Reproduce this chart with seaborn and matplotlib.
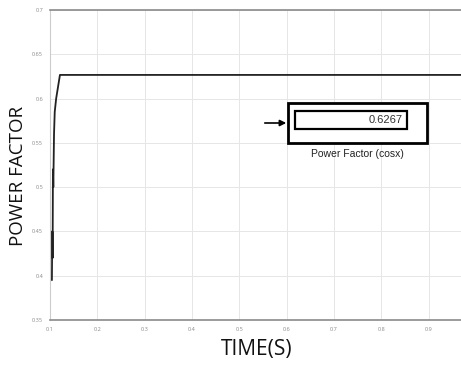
import matplotlib
matplotlib.use("Agg")
import matplotlib.pyplot as plt
import matplotlib.patches as mpatches
import seaborn as sns
import pandas as pd

# simulation trace
time_s = [0.1040, 0.1048, 0.1055, 0.1062, 0.1070, 0.1085, 0.1100, 0.1130, 0.1210, 1.0500]
power_factor = [0.395, 0.450, 0.420, 0.520, 0.500, 0.560, 0.585, 0.600, 0.6267, 0.6267]
x_ticks = [0.1, 0.2, 0.3, 0.4, 0.5, 0.6, 0.7, 0.8, 0.9]
y_ticks = [0.35, 0.4, 0.45, 0.5, 0.55, 0.6, 0.65, 0.7]
display_value = "0.6267"
display_label = "Power Factor (cosx)"

df = pd.DataFrame({"Time": time_s, "PF": power_factor})

sns.set_style("white")
plt.rcParams["font.family"] = ["Open Sans", "DejaVu Sans"]

W, H = 461, 365
fig = plt.figure(figsize=(W / 100, H / 100), dpi=100)
ax = fig.add_axes([50 / W, 1 - 320 / H, 426 / W, 310 / H])

sns.lineplot(data=df, x="Time", y="PF", ax=ax, color="#222222", linewidth=1.3)

ax.set_xlim(0.1, 1.0)
ax.set_ylim(0.35, 0.7)
ax.set_xticks(x_ticks)
ax.set_yticks(y_ticks)
ax.set_xticklabels([f"{t:g}" for t in x_ticks], fontsize=4, color="#888888")
ax.set_yticklabels([f"{t:g}" for t in y_ticks], fontsize=4, color="#888888")
ax.tick_params(axis="both", length=3, width=0.6, color="#999999", pad=2)
ax.grid(True, color="#e6e6e6", linewidth=0.7)

for side in ["top", "bottom"]:
    ax.spines[side].set_color("#8a8a8a")
    ax.spines[side].set_linewidth(1.2)
ax.spines["left"].set_color("#cccccc")
ax.spines["left"].set_linewidth(0.8)
ax.spines["right"].set_visible(False)

ax.set_xlabel("")
ax.set_ylabel("")
fig.text(18 / W, 1 - 176 / H, "POWER FACTOR", rotation=90, fontsize=13.5,
         ha="center", va="center", color="#111111")
fig.text(257 / W, 1 - 350 / H, "TIME(S)", fontsize=15,
         ha="center", va="center", color="#111111")

# display block overlaid on the scope
def px_rect(x0, y0, x1, y1, lw):
    return mpatches.Rectangle((x0 / W, 1 - y1 / H), (x1 - x0) / W, (y1 - y0) / H,
                              transform=fig.transFigure, fill=True, facecolor="white",
                              edgecolor="black", linewidth=lw)

fig.add_artist(px_rect(288, 103, 427, 143, 2.0))
fig.add_artist(px_rect(295, 111, 407, 129, 1.6))
fig.text(403 / W, 1 - 120 / H, display_value, fontsize=8, ha="right", va="center",
         color="#333333", family=["Liberation Sans", "DejaVu Sans"])
fig.text(357 / W, 1 - 154 / H, display_label, fontsize=7.5, ha="center", va="center",
         color="#222222", family=["Liberation Sans", "DejaVu Sans"])
fig.add_artist(mpatches.FancyArrowPatch((262 / W, 1 - 123 / H), (289 / W, 1 - 123 / H),
                                        transform=fig.transFigure, arrowstyle="-|>",
                                        mutation_scale=9, color="black", linewidth=1.2))

fig.savefig("out.png", dpi=100)
